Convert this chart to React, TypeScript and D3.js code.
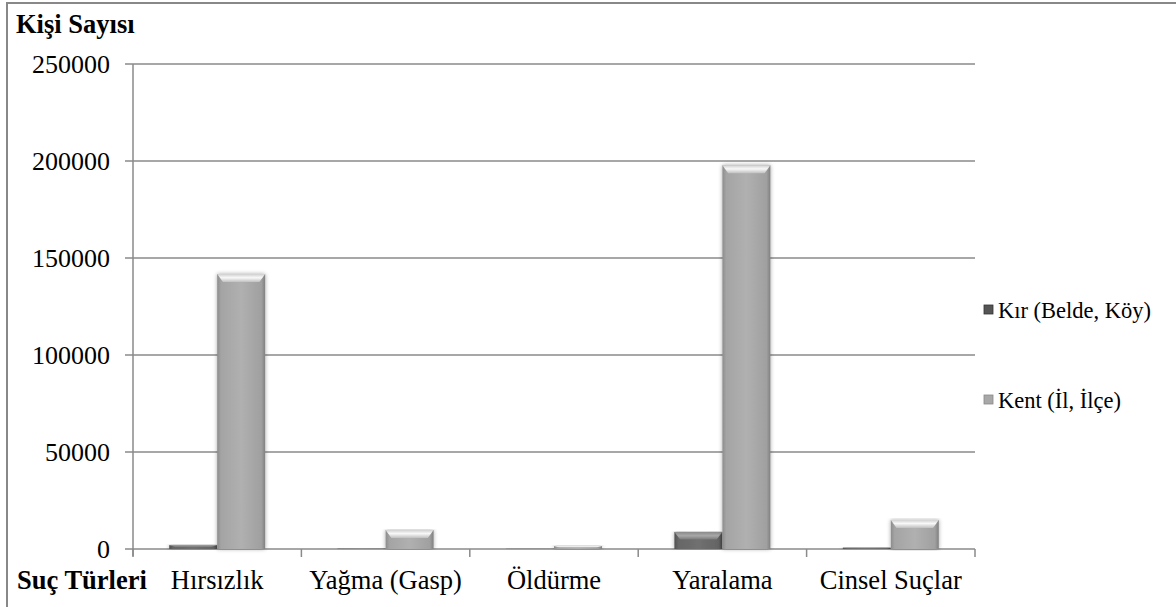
import React from "react";
import * as d3 from "d3";

const categories = ["Hırsızlık", "Yağma (Gasp)", "Öldürme", "Yaralama", "Cinsel Suçlar"];
const seriesNames = ["Kır (Belde, Köy)", "Kent (İl, İlçe)"];
const kirValues = [2000, 200, 100, 8800, 700];
const kentValues = [141700, 9800, 1500, 197800, 15000];
const yTicks = [0, 50000, 100000, 150000, 200000, 250000];

const W = 1176;
const H = 607;
const left = 133;
const right = 975;
const top = 64;
const bottom = 549;

const FONT = "'Liberation Serif', 'DejaVu Serif', serif";

export default function App() {
  const x = d3.scaleBand<string>().domain(categories).range([left, right]).padding(0);
  const y = d3.scaleLinear().domain([0, 250000]).range([bottom, top]);
  const bw = x.bandwidth() * 0.285;
  const series = [
    { name: seriesNames[0], values: kirValues, grad: "kirG", bev: "kirB", legend: "#555" },
    { name: seriesNames[1], values: kentValues, grad: "kentG", bev: "kentB", legend: "#a8a8a8" },
  ];

  const ticksX = categories.map((c) => x(c)!).concat([right]);

  return (
    <div style={{ position: "absolute", left: 0, top: 0, width: W, height: H, fontFamily: FONT }}>
      <svg width={W} height={H} style={{ display: "block", background: "#fff" }}>
        <defs>
          <linearGradient id="kentG" x1="0" x2="1" y1="0" y2="0">
            <stop offset="0" stopColor="#8c8c8c" />
            <stop offset="0.08" stopColor="#a4a4a4" />
            <stop offset="0.5" stopColor="#b0b0b0" />
            <stop offset="0.92" stopColor="#a0a0a0" />
            <stop offset="1" stopColor="#808080" />
          </linearGradient>
          <linearGradient id="kirG" x1="0" x2="1" y1="0" y2="0">
            <stop offset="0" stopColor="#505050" />
            <stop offset="0.08" stopColor="#666" />
            <stop offset="0.5" stopColor="#707070" />
            <stop offset="0.92" stopColor="#646464" />
            <stop offset="1" stopColor="#4a4a4a" />
          </linearGradient>
          <linearGradient id="kentB" x1="0" x2="0" y1="0" y2="1">
            <stop offset="0" stopColor="#d0d0d0" />
            <stop offset="0.45" stopColor="#f8f8f8" />
            <stop offset="1" stopColor="#c0c0c0" />
          </linearGradient>
          <linearGradient id="kirB" x1="0" x2="0" y1="0" y2="1">
            <stop offset="0" stopColor="#8a8a8a" />
            <stop offset="0.5" stopColor="#a8a8a8" />
            <stop offset="1" stopColor="#787878" />
          </linearGradient>
          <filter id="shadow" x="-20%" y="-5%" width="140%" height="110%">
            <feGaussianBlur in="SourceAlpha" stdDeviation="2" />
            <feComponentTransfer>
              <feFuncA type="linear" slope="0.35" />
            </feComponentTransfer>
            <feMerge>
              <feMergeNode />
              <feMergeNode in="SourceGraphic" />
            </feMerge>
          </filter>
        </defs>

        <rect x={7} y={3} width={W} height={H} fill="none" stroke="#888" strokeWidth={2} />

        {yTicks.map((t) => (
          <line key={t} x1={left - 8} x2={right} y1={y(t)} y2={y(t)} stroke="#8a8a8a" strokeWidth={1.5} />
        ))}
        <line x1={left} x2={left} y1={top} y2={bottom + 7} stroke="#8a8a8a" strokeWidth={1.5} />
        {ticksX.map((tx, i) => (
          <line key={i} x1={tx} x2={tx} y1={bottom} y2={bottom + 8} stroke="#8a8a8a" strokeWidth={1.5} />
        ))}

        <g fontFamily={FONT}>
          {yTicks.map((t) => (
            <text key={t} x={110} y={y(t)} textAnchor="end" dominantBaseline="central" fontSize={26} fill="#000">
              {t}
            </text>
          ))}
        </g>

        {categories.map((c, ci) =>
          series.map((s, si) => {
            const v = s.values[ci];
            const cx = x(c)! + x.bandwidth() / 2;
            const bx = cx - bw + si * bw;
            const by = y(v);
            const h = bottom - by;
            const bev = Math.min(8, h * 0.45);
            const ins = Math.min(6, bw * 0.12);
            return (
              <g key={c + si} filter="url(#shadow)">
                <rect x={bx} y={by} width={bw} height={h} fill={`url(#${s.grad})`} />
                <polygon
                  points={`${bx},${by} ${bx + bw},${by} ${bx + bw - ins},${by + bev} ${bx + ins},${by + bev}`}
                  fill={`url(#${s.bev})`}
                />
              </g>
            );
          })
        )}

        <g fontFamily={FONT}>
          {categories.map((c) => (
            <text key={c} x={x(c)! + x.bandwidth() / 2} y={589} textAnchor="middle" fontSize={26.5} fill="#000">
              {c}
            </text>
          ))}
          <text x={16} y={33} fontSize={26.5} fontWeight="bold" fill="#000">
            Kişi Sayısı
          </text>
          <text x={17} y={589} fontSize={26.5} fontWeight="bold" fill="#000">
            Suç Türleri
          </text>
          {series.map((s, i) => {
            const ly = 310 + i * 90;
            return (
              <g key={s.name}>
                <rect x={984} y={ly - 5} width={9} height={9} fill={s.legend} stroke={i === 0 ? "#333" : "#888"} strokeWidth={0.8} />
                <text x={998} y={ly} dominantBaseline="central" fontSize={22.5} fill="#000">
                  {s.name}
                </text>
              </g>
            );
          })}
        </g>
      </svg>
    </div>
  );
}
